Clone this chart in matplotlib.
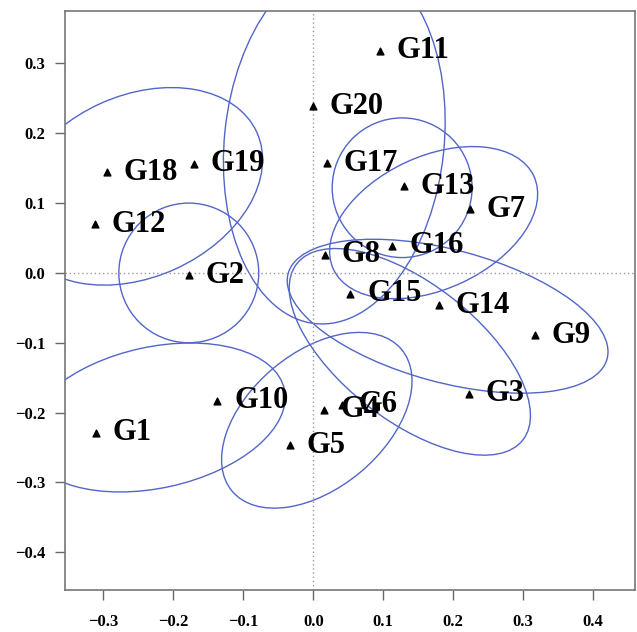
import numpy as np
import matplotlib.pyplot as plt
from matplotlib.patches import Ellipse

# genotype scores
labels = ['G1', 'G2', 'G3', 'G4', 'G5', 'G6', 'G7', 'G8', 'G9', 'G10',
          'G11', 'G12', 'G13', 'G14', 'G15', 'G16', 'G17', 'G18', 'G19', 'G20']
x_vals = [-0.311, -0.178, 0.222, 0.015, -0.034, 0.041, 0.224, 0.017, 0.317, -0.137,
          0.095, -0.312, 0.129, 0.180, 0.053, 0.113, 0.019, -0.295, -0.171, -0.001]
y_vals = [-0.229, -0.003, -0.173, -0.196, -0.247, -0.189, 0.091, 0.026, -0.089, -0.183,
          0.318, 0.070, 0.124, -0.046, -0.030, 0.039, 0.157, 0.144, 0.156, 0.239]

# confidence ellipses: centre x, centre y, semi-major, semi-minor, angle (deg)
ell_cx = [-0.251, -0.178, 0.030, 0.127, 0.172, 0.192, 0.138, 0.005, -0.226]
ell_cy = [0.124, 0.000, 0.188, 0.122, 0.072, -0.062, -0.113, -0.211, -0.207]
ell_a = [0.187, 0.100, 0.262, 0.100, 0.158, 0.236, 0.205, 0.158, 0.189]
ell_b = [0.130, 0.100, 0.157, 0.100, 0.095, 0.095, 0.098, 0.097, 0.101]
ell_ang = [24.5, 0, 84, 0, 25, -15, -38, 40, 12.4]

xticks = [-0.3, -0.2, -0.1, 0.0, 0.1, 0.2, 0.3, 0.4]
yticks = [-0.4, -0.3, -0.2, -0.1, 0.0, 0.1, 0.2, 0.3]

plt.rcParams['font.family'] = ['Liberation Serif', 'DejaVu Serif']

fig = plt.figure(figsize=(6.37, 6.32), dpi=100)
ax = fig.add_axes([0.102, 0.0665, 0.895, 0.916])

ax.axhline(0, color='#999999', ls=(0, (1, 2)), lw=1)
ax.axvline(0, color='#999999', ls=(0, (1, 2)), lw=1)

for cx, cy, a, b, ang in zip(ell_cx, ell_cy, ell_a, ell_b, ell_ang):
    ax.add_patch(Ellipse((cx, cy), 2 * a, 2 * b, angle=ang, fill=False,
                         edgecolor='#5266c8', lw=1.0))

ax.scatter(x_vals, y_vals, marker='^', s=24, color='black', zorder=3)
for lab, xv, yv in zip(labels, x_vals, y_vals):
    ax.annotate(lab, (xv, yv), xytext=(12, 0), textcoords='offset points',
                va='center', ha='left', fontsize=22, fontweight='bold', zorder=4)

ax.set_xlim(-0.355, 0.46)
ax.set_ylim(-0.454, 0.375)
ax.set_xticks(xticks)
ax.set_yticks(yticks)
ax.set_xticklabels(['\u2212%.1f' % abs(t) if t < 0 else '%.1f' % t for t in xticks])
ax.set_yticklabels(['\u2212%.1f' % abs(t) if t < 0 else '%.1f' % t for t in yticks])
ax.tick_params(length=7, width=1, color='#666666', labelsize=12, pad=7)
ax.tick_params(axis='x', pad=10)
for lbl in ax.get_xticklabels() + ax.get_yticklabels():
    lbl.set_fontweight('bold')
for sp in ax.spines.values():
    sp.set_color('#777777')
    sp.set_linewidth(1.2)

fig.savefig('out.png', dpi=100)
